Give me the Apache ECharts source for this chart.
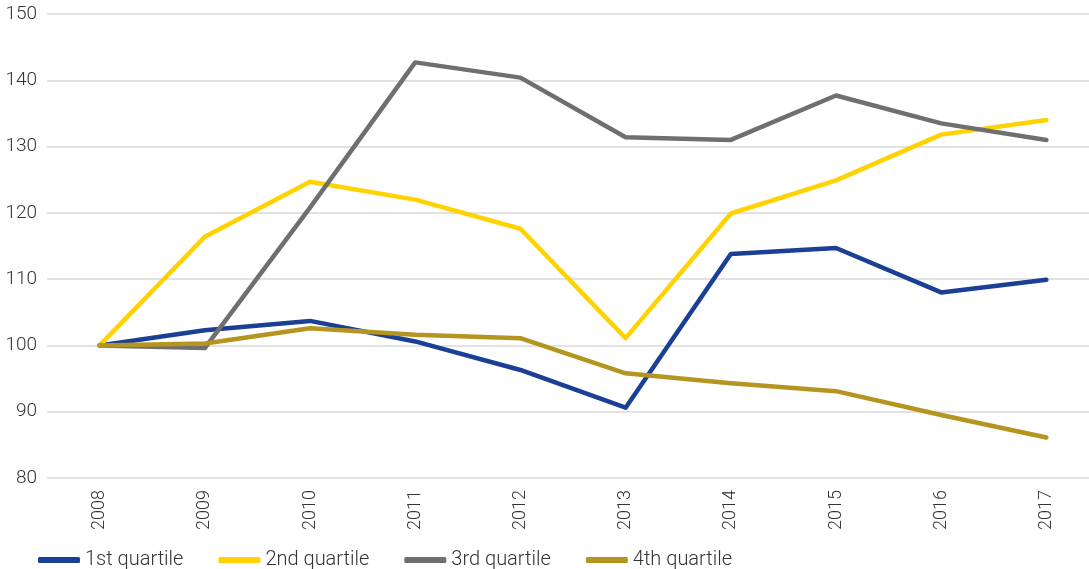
<!DOCTYPE html>
<html>
<head>
<meta charset="utf-8">
<script src="https://cdn.jsdelivr.net/npm/echarts@6/dist/echarts.min.js"></script>
<style>
  html, body { margin: 0; padding: 0; background: #fff; overflow: hidden; }
  #chart { width: 1100px; height: 569px; }
</style>
</head>
<body>
<div id="chart"></div>
<script>
const years = ['2008', '2009', '2010', '2011', '2012', '2013', '2014', '2015', '2016', '2017'];
const q1 = [100, 102.3, 103.7, 100.6, 96.3, 90.6, 113.8, 114.7, 108.0, 109.9];
const q2 = [100, 116.4, 124.7, 122.0, 117.6, 101.1, 119.9, 124.9, 131.8, 134.0];
const q3 = [100, 99.6, 120.8, 142.7, 140.4, 131.4, 131.0, 137.7, 133.5, 131.0];
const q4 = [100, 100.3, 102.6, 101.6, 101.1, 95.8, 94.3, 93.1, 89.5, 86.1];
const yTicks = [80, 90, 100, 110, 120, 130, 140, 150];

const font = 'Roboto';
const textColor = '#333333';

let line = (name, data, color) => ({
    name: name,
    type: 'line',
    data: data,
    symbol: 'none',
    lineStyle: { color: color, width: 4.5, cap: 'round', join: 'round' },
    itemStyle: { color: color }
});

// the plot runs slightly past the right edge of the window, so the canvas is a bit wider
let option = {
    animation: false,
    grid: { left: 47, top: 14, right: 1, bottom: 91 },
    legend: {
        left: 33,
        top: 545,
        icon: 'roundRect',
        itemWidth: 42,
        itemHeight: 6,
        itemGap: 35,
        textStyle: { fontFamily: font, fontWeight: 300, fontSize: 20, color: textColor }
    },
    xAxis: {
        type: 'category',
        data: years,
        axisLine: { show: false },
        axisTick: { show: false },
        axisLabel: {
            rotate: 90,
            margin: 12,
            fontFamily: font,
            fontWeight: 300,
            fontSize: 18,
            color: textColor
        }
    },
    yAxis: {
        type: 'value',
        min: yTicks[0],
        max: yTicks[yTicks.length - 1],
        interval: 10,
        axisLine: { show: false },
        axisTick: { show: false },
        axisLabel: {
            margin: 10,
            fontFamily: font,
            fontWeight: 300,
            fontSize: 19,
            color: textColor
        },
        splitLine: { lineStyle: { color: '#d9d9d9', width: 1.5 } }
    },
    series: [
        line('1st quartile', q1, '#1b3f94'),
        line('2nd quartile', q2, '#ffd200'),
        line('3rd quartile', q3, '#6f6f6f'),
        line('4th quartile', q4, '#b5951f')
    ]
};

let myChart = echarts.init(document.getElementById('chart'));
myChart.setOption(option);
</script>
</body>
</html>
